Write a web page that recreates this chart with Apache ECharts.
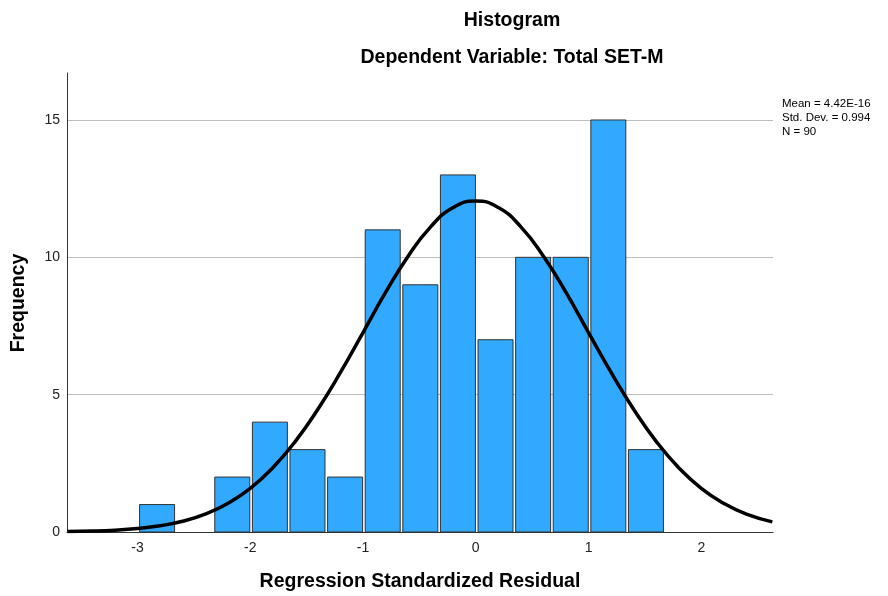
<!DOCTYPE html>
<html>
<head>
<meta charset="utf-8">
<script src="https://cdn.jsdelivr.net/npm/echarts@6/dist/echarts.min.js"></script>
<style>html,body{margin:0;padding:0;background:#fff;}#c{width:888px;height:596px;}</style>
</head>
<body>
<div id="c"></div>
<script>
// Histogram bins: [left edge, right edge]
var binLeft  = [-2.993, -2.6595, -2.326, -1.9925, -1.659, -1.3255, -0.992, -0.6585, -0.325, 0.0085, 0.342, 0.6755, 1.009, 1.3425];
var binRight = [-2.6595, -2.326, -1.9925, -1.659, -1.3255, -0.992, -0.6585, -0.325, 0.0085, 0.342, 0.6755, 1.009, 1.3425, 1.676];
var counts   = [1, 0, 2, 4, 3, 2, 11, 9, 13, 7, 10, 10, 15, 3];

// Normal curve
var curveX = [-3.62, -3.4, -3.2, -3.0, -2.8, -2.6, -2.4, -2.2, -2.0, -1.8, -1.6, -1.4, -1.2, -1.0, -0.8, -0.6, -0.4, -0.2, 0, 0.2, 0.4, 0.6, 0.8, 1.0, 1.2, 1.4, 1.6, 1.8, 2.0, 2.2, 2.4, 2.63];
var curveY = [0.02, 0.035, 0.068, 0.13, 0.23, 0.39, 0.65, 1.04, 1.59, 2.34, 3.30, 4.47, 5.81, 7.26, 8.72, 10.04, 11.11, 11.81, 12.05, 11.81, 11.11, 10.04, 8.72, 7.26, 5.81, 4.47, 3.30, 2.34, 1.59, 1.04, 0.65, 0.37];

var xTicks = [-3, -2, -1, 0, 1, 2];
var yTicks = [0, 5, 10, 15];

var titleText = 'Histogram';
var subtitleText = 'Dependent Variable: Total SET-M';
var xTitle = 'Regression Standardized Residual';
var yTitle = 'Frequency';
var statsLines = ['Mean = 4.42E-16', 'Std. Dev. = 0.994', 'N = 90'];

var barData = counts.map(function (c, i) { return [binLeft[i], binRight[i], c]; });
var curveData = curveX.map(function (x, i) { return [x, curveY[i]]; });

var FONT = '"Liberation Sans", Arial, sans-serif';
var chart = echarts.init(document.getElementById('c'), null, {renderer: 'canvas'});
chart.setOption({
  animation: false,
  backgroundColor: '#ffffff',
  grid: {left: 67, right: 115, top: 73, bottom: 64, containLabel: false},
  xAxis: {
    type: 'value', min: -3.625, max: 2.636,
    axisLine: {show: true, onZero: false, lineStyle: {color: '#333', width: 1}},
    axisTick: {show: false},
    splitLine: {show: false},
    axisLabel: {customValues: xTicks, color: '#222', fontSize: 14, fontFamily: FONT, margin: 9}
  },
  yAxis: {
    type: 'value', min: 0, max: 16.71,
    axisLine: {show: true, onZero: false, lineStyle: {color: '#333', width: 1}},
    axisTick: {show: false, customValues: yTicks},
    splitLine: {show: true, lineStyle: {color: '#bdbdbd', width: 1}},
    axisLabel: {customValues: yTicks, color: '#222', fontSize: 14, fontFamily: FONT, margin: 7}
  },
  series: [
    {
      type: 'custom',
      data: barData,
      encode: {x: [0, 1], y: 2},
      z: 2,
      renderItem: function (params, api) {
        var x0 = api.value(0), x1 = api.value(1), v = api.value(2);
        if (!v) return null;
        var pTop = api.coord([x0, v]);
        var pBot = api.coord([x1, 0]);
        return {
          type: 'rect',
          shape: {x: pTop[0] + 1.3, y: pTop[1], width: pBot[0] - pTop[0] - 2.6, height: pBot[1] - pTop[1]},
          style: {fill: '#30a9fe', stroke: '#333', lineWidth: 1}
        };
      }
    },
    {
      type: 'line',
      data: curveData,
      smooth: true,
      symbol: 'none',
      z: 5,
      lineStyle: {color: '#000', width: 3.5}
    }
  ],
  graphic: [
    {type: 'text', x: 512, y: 21, style: {text: titleText, font: 'bold 19.5px ' + FONT, fill: '#000', textAlign: 'center', textVerticalAlign: 'middle'}},
    {type: 'text', x: 512, y: 58, style: {text: subtitleText, font: 'bold 19.5px ' + FONT, fill: '#000', textAlign: 'center', textVerticalAlign: 'middle'}},
    {type: 'text', x: 420, y: 582, style: {text: xTitle, font: 'bold 19.5px ' + FONT, fill: '#000', textAlign: 'center', textVerticalAlign: 'middle'}},
    {type: 'text', x: 19, y: 303, rotation: Math.PI / 2, style: {text: yTitle, font: 'bold 19.5px ' + FONT, fill: '#000', textAlign: 'center', textVerticalAlign: 'middle'}},
    {type: 'text', x: 782, y: 97, style: {text: statsLines.join('\n'), font: '11.5px ' + FONT, fill: '#000', textAlign: 'left', textVerticalAlign: 'top', lineHeight: 14}}
  ]
});
</script>
</body>
</html>
